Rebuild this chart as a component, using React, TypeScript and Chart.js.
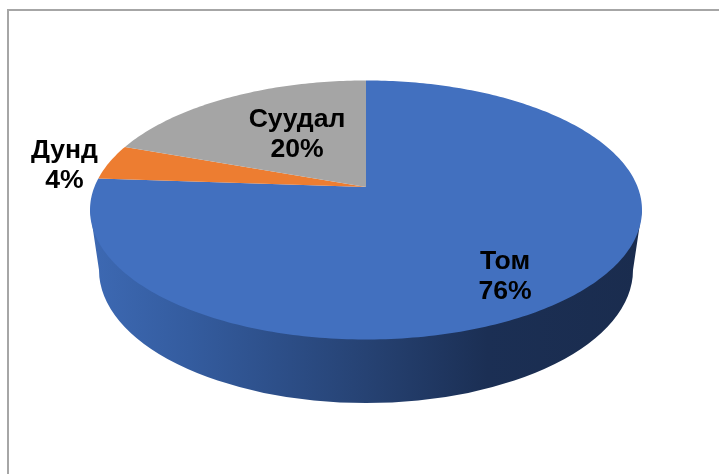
import React, { useEffect, useRef } from "react";
import { Chart, registerables } from "chart.js";

Chart.register(...registerables);

const categories = ["Том", "Дунд", "Суудал"];
const shares = [76.1, 4.4, 19.5];
const sliceColors = ["#4270BF", "#ED7D31", "#A5A5A5"];

const WIDTH = 719;
const HEIGHT = 474;
const FRAME = "#A6A6A6";
const FONT = 'bold 26.6px "Liberation Sans", Arial, sans-serif';

// top face of the pie: an ellipse seen in perspective
const TOP = { cx: 366, cy: 210, rx: 276, ry: 129.5, apexShift: -0.178 };
// bottom rim of the pie
const RIM = { cx: 366, cy: 270, rx: 267, ry: 133 };
const SIDE_STOPS: [number, string][] = [
  [0, "#3D69B3"],
  [0.18, "#345C9F"],
  [0.5, "#264273"],
  [0.72, "#1B2F54"],
  [1, "#1A2C4E"],
];
const LABEL_CENTERS = [
  { x: 505, y: 262 },
  { x: 64.5, y: 151 },
  { x: 297, y: 120 },
];
const LINE_GAP = 30;

function project(angle: number) {
  const u = Math.cos(angle);
  const v = Math.sin(angle);
  const t = TOP.apexShift;
  const d = 1 + t * v;
  return {
    x: TOP.cx + (TOP.rx * u * Math.sqrt(1 - t * t)) / d,
    y: TOP.cy + (TOP.ry * (v + t)) / d,
  };
}

const pie3d = {
  id: "pie3d",
  beforeDatasetsDraw(chart: any) {
    const ctx: CanvasRenderingContext2D = chart.ctx;
    const arcs = chart.getDatasetMeta(0).data;

    // side wall
    const grad = ctx.createLinearGradient(TOP.cx - TOP.rx, 0, TOP.cx + TOP.rx, 0);
    SIDE_STOPS.forEach(([o, c]) => grad.addColorStop(o, c));
    ctx.save();
    ctx.beginPath();
    ctx.moveTo(TOP.cx + TOP.rx, TOP.cy);
    ctx.lineTo(RIM.cx + RIM.rx, RIM.cy);
    ctx.ellipse(RIM.cx, RIM.cy, RIM.rx, RIM.ry, 0, 0, Math.PI);
    ctx.lineTo(TOP.cx - TOP.rx, TOP.cy);
    ctx.closePath();
    ctx.fillStyle = grad;
    ctx.fill();

    // top face, one slice per arc element laid out by Chart.js
    const ax = TOP.cx;
    const ay = TOP.cy + TOP.ry * TOP.apexShift;
    arcs.forEach((arc: any, i: number) => {
      const steps = Math.max(8, Math.ceil((arc.endAngle - arc.startAngle) * 60));
      ctx.beginPath();
      ctx.moveTo(ax, ay);
      for (let s = 0; s <= steps; s++) {
        const a = arc.startAngle + ((arc.endAngle - arc.startAngle) * s) / steps;
        const p = project(a);
        ctx.lineTo(p.x, p.y);
      }
      ctx.closePath();
      ctx.fillStyle = sliceColors[i];
      ctx.fill();
    });

    // labels
    ctx.fillStyle = "#000000";
    ctx.font = FONT;
    ctx.textAlign = "center";
    ctx.textBaseline = "middle";
    categories.forEach((name, i) => {
      const c = LABEL_CENTERS[i];
      ctx.fillText(name, c.x, c.y);
      ctx.fillText(`${Math.round(shares[i])}%`, c.x, c.y + LINE_GAP);
    });
    ctx.restore();
    return false;
  },
};

export default function App() {
  const ref = useRef<HTMLCanvasElement>(null);
  useEffect(() => {
    const chart = new Chart(ref.current!, {
      type: "pie",
      data: {
        labels: categories,
        datasets: [{ data: shares, backgroundColor: sliceColors, borderWidth: 0 }],
      },
      options: {
        animation: false,
        responsive: false,
        plugins: { legend: { display: false }, tooltip: { enabled: false } },
      },
      plugins: [pie3d],
    } as any);
    return () => chart.destroy();
  }, []);
  return (
    <div style={{ position: "absolute", left: 0, top: 0, width: WIDTH, height: HEIGHT, background: "#fff", overflow: "hidden" }}>
      <div style={{ position: "absolute", left: 7, top: 9, right: 0, bottom: 0, borderLeft: `2px solid ${FRAME}`, borderTop: `2px solid ${FRAME}` }} />
      <canvas ref={ref} width={WIDTH} height={HEIGHT} style={{ position: "absolute", left: 0, top: 0 }} />
    </div>
  );
}
